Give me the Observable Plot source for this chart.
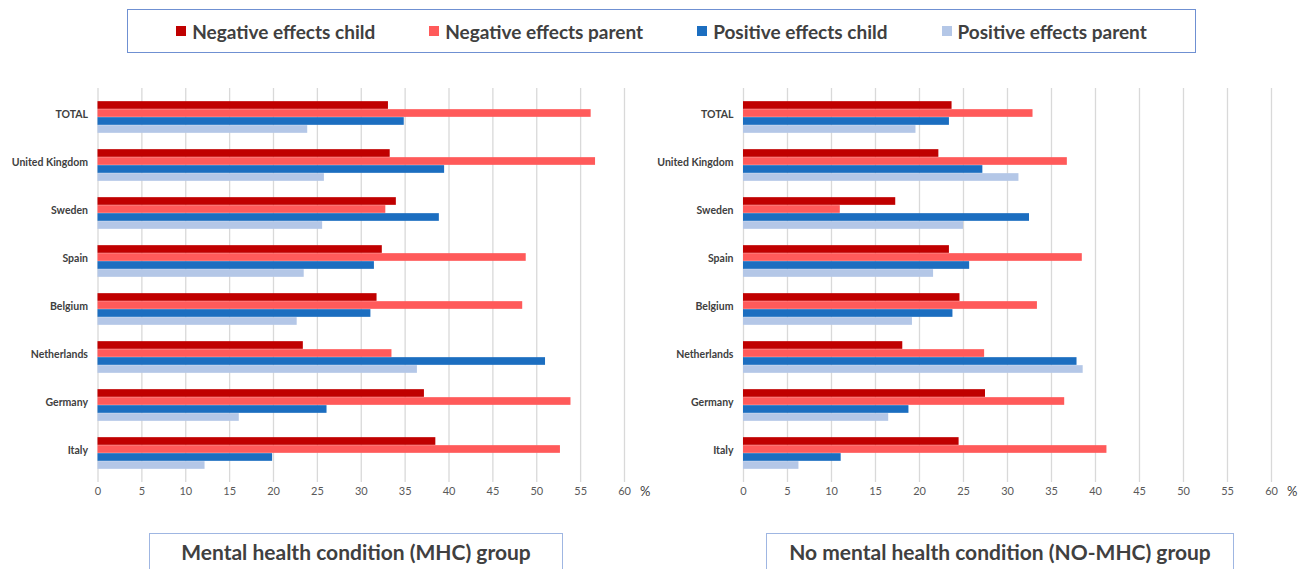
<!DOCTYPE html>
<html><head><meta charset="utf-8">
<script src="https://cdn.jsdelivr.net/npm/d3@7"></script>
<script src="https://cdn.jsdelivr.net/npm/@observablehq/plot@0.6"></script>
<style>
body{margin:0;width:1309px;height:569px;overflow:hidden;background:#fff;font-family:Lato,"Open Sans",sans-serif;position:relative}
#legend{position:absolute;left:127px;top:9px;width:1067px;height:42px;border:1.5px solid #6F90D2;display:flex;align-items:center;justify-content:center;gap:54px;box-sizing:content-box}
.item{display:flex;align-items:center;font-weight:700;font-size:19px;color:#404040}
.sw{width:10px;height:10px;margin-right:6px;display:inline-block}
.panel{position:absolute;top:60px}
.title{position:absolute;top:533px;height:40px;border:1.5px solid #9FB6E2;display:flex;align-items:center;justify-content:center;font-weight:700;font-size:21px;color:#404040;padding-bottom:4px;box-sizing:border-box}
</style></head>
<body>
<div id="legend"></div>
<div id="left" class="panel" style="left:0px"></div>
<div id="right" class="panel" style="left:660px"></div>
<div class="title" style="left:149px;width:414px">Mental health condition (MHC) group</div>
<div class="title" style="left:766px;width:468px">No mental health condition (NO-MHC) group</div>
<script>
const countries = ["TOTAL","United Kingdom","Sweden","Spain","Belgium","Netherlands","Germany","Italy"];
const seriesNames = ["Negative effects child","Negative effects parent","Positive effects child","Positive effects parent"];
const seriesColors = ["#C00000","#FF5A5A","#1C6EC0","#B4C7E7"];
const xTicks = [0,5,10,15,20,25,30,35,40,45,50,55,60];

const mhcNegChild   = [33.1,33.3,34.0,32.4,31.8,23.4,37.2,38.5];
const mhcNegParent  = [56.2,56.7,32.8,48.8,48.4,33.5,53.9,52.7];
const mhcPosChild   = [34.9,39.5,38.9,31.5,31.1,51.0,26.1,19.9];
const mhcPosParent  = [23.9,25.8,25.6,23.5,22.7,36.4,16.1,12.2];

const noNegChild    = [23.7,22.2,17.3,23.4,24.6,18.1,27.5,24.5];
const noNegParent   = [32.9,36.8,11.0,38.5,33.4,27.4,36.5,41.3];
const noPosChild    = [23.4,27.2,32.5,25.7,23.8,37.9,18.8,11.1];
const noPosParent   = [19.6,31.3,25.0,21.6,19.2,38.6,16.5,6.3];

// legend
const lg = document.getElementById("legend");
seriesNames.forEach((s,i)=>{
  const d = document.createElement("div"); d.className="item";
  d.innerHTML = `<span class="sw" style="background:${seriesColors[i]}"></span>${s}`;
  lg.appendChild(d);
});

function makeChart(seriesArrays, marginLeft, width, marginRight){
  const marginTop = 28, marginBottom = 25, height = 447;
  const yInsetTop = 3.6, yInsetBottom = 3.8;
  const plotH = height - marginTop - marginBottom - yInsetTop - yInsetBottom;
  const step = plotH / countries.length;
  const barH = 8;
  const pad = (step - barH * seriesNames.length) / 2;
  const marks = [Plot.ruleX(xTicks, {stroke:"#D9D9D9", strokeWidth:1.3})];
  seriesArrays.forEach((vals, i) => {
    const data = countries.map((c, j) => ({country: c, value: vals[j], series: seriesNames[i]}));
    marks.push(Plot.barX(data, {
      x: "value", y: "country", fill: seriesColors[i],
      insetTop: pad + i * barH,
      insetBottom: step - pad - (i + 1) * barH
    }));
  });
  marks.push(Plot.axisY({tickSize: 0, tickPadding: 10, dy: -3, fontWeight: "bold", fill: "#404040", fontSize: 10.5, label: null}));
  marks.push(Plot.axisX({ticks: xTicks, tickSize: 0, tickPadding: 5, label: null, fill: "#595959"}));
  marks.push(Plot.text(["%"], {frameAnchor: "bottom-right", dx: 26, dy: 13, fontSize: 13, fill: "#404040"}));
  return Plot.plot({
    width, height, marginTop, marginBottom, marginLeft, marginRight,
    style: {fontFamily: "Lato, sans-serif", fontSize: "11px", color: "#595959", background: "transparent", overflow: "visible"},
    x: {domain: [0, 60]},
    y: {domain: countries, padding: 0, insetTop: yInsetTop, insetBottom: yInsetBottom},
    marks
  });
}

document.getElementById("left").appendChild(
  makeChart([mhcNegChild, mhcNegParent, mhcPosChild, mhcPosParent], 97.5, 660, 36));
document.getElementById("right").appendChild(
  makeChart([noNegChild, noNegParent, noPosChild, noPosParent], 83, 649, 38));
</script>
</body></html>
